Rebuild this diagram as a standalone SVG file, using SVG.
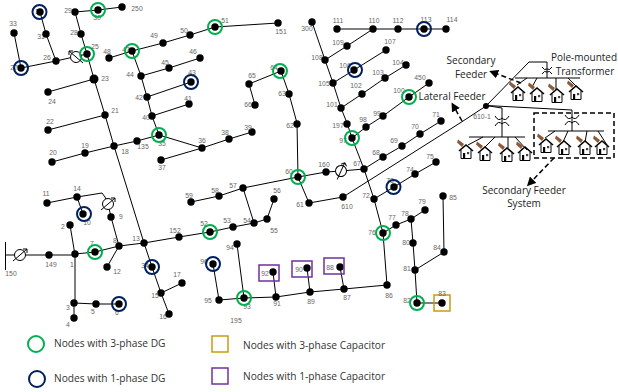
<svg xmlns="http://www.w3.org/2000/svg" width="618" height="392" viewBox="0 0 618 392">
<style>
text{font-family:"Liberation Sans",Arial,sans-serif;}
.l{font-size:6.800px;fill:#666;text-anchor:middle;dominant-baseline:middle}
.c{fill:none;stroke:#000;stroke-width:1}
.n{fill:#000}
.g{fill:none;stroke:#00b050;stroke-width:2}
.b{fill:none;stroke:#002060;stroke-width:2}
.o{fill:none;stroke:#c99a12;stroke-width:1.500}
.p{fill:none;stroke:#7030a0;stroke-width:1.500}
.t{font-family:"Open Sans","Noto Sans",sans-serif;font-size:10.200px;fill:#333;dominant-baseline:middle}
.m{font-family:"Open Sans","Noto Sans",sans-serif;font-size:10px;fill:#222;text-anchor:middle;dominant-baseline:middle}
.d{fill:none;stroke:#000;stroke-width:1.500;stroke-dasharray:5 3}
</style>
<defs>
<marker id="ah" markerWidth="6" markerHeight="6" refX="4" refY="3" orient="auto"><path d="M0 0L6 3L0 6z" fill="#000"/></marker>
<g id="house">
<path d="M-8 -12.500L-2 -8L-4 -5L-9 -9.500z" fill="#8a5a3a"/>
<path d="M-5 -2V6.500H5V-2" fill="#fff" stroke="#000" stroke-width="1"/>
<path d="M-7 -1L0 -7L7 -1" fill="none" stroke="#000" stroke-width="1.600"/>
<rect x="-3" y="1" width="2.200" height="5.500" fill="#000"/>
<rect x="1" y="0" width="2.200" height="2.200" fill="#444"/>
</g>
<g id="xf" fill="none" stroke="#000" stroke-width="1">
<path d="M-7 -4Q-3.500 2 0 -2Q3.500 2 7 -4"/>
<path d="M-7 6Q-3.500 0 0 4Q3.500 0 7 6"/>
</g>
<g id="xfs" fill="none" stroke="#000" stroke-width="1">
<path d="M-5 -3Q-2.500 1 0 -1Q2.500 1 5 -3"/>
<path d="M-5 4Q-2.500 0 0 2Q2.500 0 5 4"/>
</g>
<g id="reg" fill="none" stroke="#000" stroke-width="1"><circle r="5.500" fill="#fff"/><path d="M-7 6L7 -6M7 -6h-4M7 -6v4"/></g>
</defs>

<g id="connectors" class="c">
<path d="M5.500 242V270M6 255H75"/>
<path d="M75 255L70 225M75 255V303M74 303V318M74 303L96 304L119 304M75 254L95 252L119 246L144 243L179 237L210 232L233 227L254 223L267 219L274 199"/>
<path d="M119 246L107 267M119 246L111 217L108 204L105 197L102 193L77 197L47 203M77 197L83 214"/>
<path d="M144 243L152 267L161 293L182 283M161 293L169 314"/>
<path d="M144 243L114 146L105 115L94 79L87 54L81 34L75 12L98 10L122 7M87 54L56 61L21 68L14 33M56 61L46 34L40 12M94 79L48 92M105 115L48 130M114 146L85 153L52 162M114 146L137 141L159 135L152 116L147 97L141 76L132 51L109 58M132 51L163 43L190 35L215 27L278 23"/>
<path d="M141 76L169 68L200 58M147 97L191 82M152 116L189 104M159 135L202 148L229 139L252 132M202 148L161 160"/>
<path d="M254 223L243 188M191 202L219 196L243 188L298 177L297 123L289 94L281 71L249 84L255 105M298 177L326 172L341 171L364 169M298 177L309 203L343 197L460 123L486 106"/>
<path d="M237 244L244 298M213 264L219 300L244 298L276 297L310 292L344 289L387 285L383 233L374 199L364 169L352 138L347 123L341 108L333 83L325 60L312 22M276 297L273 272M310 292L307 268M344 289L340 267"/>
<path d="M352 138L366 127L383 116L409 97L429 83M341 108L362 94L385 78L406 65M333 83L354 70L386 50M325 60L347 46L373 29M337 29H446"/>
<path d="M364 169L383 157L402 146L420 134L441 121M374 199L394 187L415 174L436 162M383 233L396 225L411 219L425 210M411 219L413 243L415 270L417 303H442M415 270L444 252L443 196"/>
<path d="M486 106L529 62H547V78M486 105.500L572 110V131M486 105.500L502 108V137"/>
<path d="M515 78H580M469 137H525M548 131H604"/>
<path d="M527 78L517 85M537 78L532 87M556 78V90M568 78L577 87"/>
<path d="M483 137L468 145M495 137L485 147M508 137V148M515 137L527 150"/>
<path d="M555 131L545 138M568 131L563 142M587 131L585 142M598 131L607 145"/>
<use href="#reg" x="20" y="255"/><use href="#reg" transform="translate(76 57) scale(-1 1)"/><use href="#reg" x="108" y="204"/><use href="#reg" transform="translate(341 171) rotate(-25)"/>
<use href="#xfs" x="547" y="70"/>
<use href="#xf" x="502" y="120"/>
<use href="#xf" x="572" y="119"/>
<path class="d" d="M521 83L492 72" marker-end="url(#ah)"/>
<path class="d" d="M462 121L453 105" marker-end="url(#ah)"/>
<path class="d" d="M554 158L529 184" marker-end="url(#ah)"/>
<rect x="534" y="113" width="80" height="45" fill="none" stroke="#000" stroke-width="1.500" stroke-dasharray="5 3"/>
</g>

<g id="nodes">
<g id="n33"><circle class="n" cx="14" cy="33" r="3.700"/><text class="l" x="13" y="24">33</text></g>
<g id="n32"><text class="l" x="39" y="12">32</text><circle class="n" cx="40" cy="12" r="3.700"/><circle class="b" cx="39.500" cy="12" r="7"/></g>
<g id="n31"><text class="l" x="41" y="37">31</text><circle class="n" cx="46" cy="34" r="3.700"/></g>
<g id="n27"><text class="l" x="14" y="68">27</text><circle class="n" cx="21" cy="68" r="3.700"/><circle class="b" cx="21" cy="68" r="7"/></g>
<g id="n26"><circle class="n" cx="56" cy="61" r="3.700"/><text class="l" x="47" y="58">26</text></g>
<g id="n25"><circle class="n" cx="87" cy="54" r="3.700"/><circle class="g" cx="87" cy="54" r="7"/><text class="l" x="95" y="47">25</text></g>
<g id="n28"><text class="l" x="74" y="33">28</text><circle class="n" cx="81" cy="34" r="3.700"/></g>
<g id="n29"><circle class="n" cx="75" cy="12" r="3.700"/><text class="l" x="68" y="11">29</text></g>
<g id="n30"><text class="l" x="97" y="18">30</text><circle class="n" cx="98" cy="10" r="3.700"/><circle class="g" cx="98" cy="10" r="7"/></g>
<g id="n250"><circle class="n" cx="122" cy="7" r="3.700"/><text class="l" x="137" y="9">250</text></g>
<g id="n23"><circle class="n" cx="94" cy="79" r="4.500"/><text class="l" x="105" y="79">23</text></g>
<g id="n24"><circle class="n" cx="48" cy="92" r="3.700"/><text class="l" x="52" y="102">24</text></g>
<g id="n21"><circle class="n" cx="105" cy="115" r="3.700"/><text class="l" x="115" y="111">21</text></g>
<g id="n22"><circle class="n" cx="48" cy="130" r="3.700"/><text class="l" x="50" y="122">22</text></g>
<g id="n48"><circle class="n" cx="109" cy="58" r="3.700"/><text class="l" x="107" y="52">48</text></g>
<g id="n47"><text class="l" x="126" y="50">47</text><circle class="n" cx="132" cy="51" r="3.700"/><circle class="g" cx="132" cy="51" r="7"/></g>
<g id="n49"><circle class="n" cx="163" cy="43" r="3.700"/><text class="l" x="154" y="36">49</text></g>
<g id="n50"><circle class="n" cx="190" cy="35" r="3.700"/><text class="l" x="184" y="31">50</text></g>
<g id="n51"><circle class="n" cx="215" cy="27" r="3.700"/><circle class="g" cx="215" cy="27" r="7"/><text class="l" x="225" y="21">51</text></g>
<g id="n151"><circle class="n" cx="278" cy="23" r="3.700"/><text class="l" x="281" y="32">151</text></g>
<g id="n44"><circle class="n" cx="141" cy="76" r="3.700"/><text class="l" x="130" y="75">44</text></g>
<g id="n42"><circle class="n" cx="147" cy="97" r="3.700"/><text class="l" x="139" y="98">42</text></g>
<g id="n40"><text class="l" x="146" y="118">40</text><circle class="n" cx="152" cy="116" r="3.700"/></g>
<g id="n35"><text class="l" x="162" y="144">35</text><circle class="n" cx="159" cy="135" r="3.700"/><circle class="g" cx="159" cy="135" r="7"/></g>
<g id="n45"><circle class="n" cx="169" cy="68" r="3.700"/><text class="l" x="165" y="63">45</text></g>
<g id="n46"><circle class="n" cx="200" cy="58" r="3.700"/><text class="l" x="193" y="52">46</text></g>
<g id="n43"><text class="l" x="192" y="73">43</text><circle class="n" cx="191" cy="82" r="3.700"/><circle class="b" cx="191" cy="82" r="7"/></g>
<g id="n41"><circle class="n" cx="189" cy="104" r="3.700"/><text class="l" x="188" y="99">41</text></g>
<g id="n18"><circle class="n" cx="114" cy="146" r="3.700"/><text class="l" x="125" y="152">18</text></g>
<g id="n135"><circle class="n" cx="137" cy="141" r="3.700"/><text class="l" x="143" y="147">135</text></g>
<g id="n19"><circle class="n" cx="85" cy="153" r="3.700"/><text class="l" x="85" y="146">19</text></g>
<g id="n20"><circle class="n" cx="52" cy="162" r="3.700"/><text class="l" x="53" y="153">20</text></g>
<g id="n36"><circle class="n" cx="202" cy="148" r="3.700"/><text class="l" x="202" y="141">36</text></g>
<g id="n38"><circle class="n" cx="229" cy="139" r="3.700"/><text class="l" x="225" y="133">38</text></g>
<g id="n39"><circle class="n" cx="252" cy="132" r="3.700"/><text class="l" x="248" y="128">39</text></g>
<g id="n37"><circle class="n" cx="161" cy="160" r="3.700"/><text class="l" x="162" y="168">37</text></g>
<g id="n14"><circle class="n" cx="77" cy="197" r="3.700"/><text class="l" x="77" y="189">14</text></g>
<g id="n11"><circle class="n" cx="47" cy="203" r="3.700"/><text class="l" x="46" y="194">11</text></g>
<g id="n10"><text class="l" x="87" y="223">10</text><circle class="n" cx="83" cy="214" r="3.700"/><circle class="b" cx="84" cy="214" r="7"/></g>
<g id="n9"><circle class="n" cx="111" cy="217" r="3.700"/><text class="l" x="121" y="217">9</text></g>
<g id="n8"><circle class="n" cx="119" cy="246" r="3.700"/><text class="l" x="115" y="241">8</text></g>
<g id="n13"><circle class="n" cx="144" cy="243" r="3.700"/><text class="l" x="136" y="239">13</text></g>
<g id="n2"><circle class="n" cx="70" cy="225" r="3.700"/><text class="l" x="63" y="227">2</text></g>
<g id="n7"><text class="l" x="92" y="244">7</text><circle class="n" cx="95" cy="252" r="3.700"/><circle class="g" cx="95" cy="252" r="7"/></g>
<g id="n1"><circle class="n" cx="75" cy="254" r="3.700"/><text class="l" x="72" y="265">1</text></g>
<g id="n149"><circle class="n" cx="49" cy="255" r="3.700"/><text class="l" x="51" y="265">149</text></g>
<g id="n150"><text class="l" x="11" y="274">150</text></g>
<g id="n12"><circle class="n" cx="107" cy="267" r="3.700"/><text class="l" x="117" y="272">12</text></g>
<g id="n34"><text class="l" x="145" y="266">34</text><circle class="n" cx="152" cy="267" r="3.700"/><circle class="b" cx="152" cy="267" r="7"/></g>
<g id="n15"><circle class="n" cx="161" cy="293" r="3.700"/><text class="l" x="155" y="296">15</text></g>
<g id="n17"><circle class="n" cx="182" cy="283" r="3.700"/><text class="l" x="177" y="275">17</text></g>
<g id="n16"><text class="l" x="163" y="317">16</text><circle class="n" cx="169" cy="314" r="3.700"/></g>
<g id="n3"><circle class="n" cx="74" cy="303" r="3.700"/><text class="l" x="68" y="308">3</text></g>
<g id="n4"><circle class="n" cx="74" cy="318" r="3.700"/><text class="l" x="68" y="325">4</text></g>
<g id="n5"><circle class="n" cx="96" cy="304" r="3.700"/><text class="l" x="93" y="312">5</text></g>
<g id="n6"><text class="l" x="117" y="313">6</text><circle class="n" cx="119" cy="304" r="3.700"/><circle class="b" cx="119" cy="304" r="7"/></g>
<g id="n64"><text class="l" x="274" y="68">64</text><circle class="n" cx="281" cy="71" r="3.700"/><circle class="g" cx="280" cy="71" r="7"/></g>
<g id="n65"><circle class="n" cx="249" cy="84" r="3.700"/><text class="l" x="252" y="76">65</text></g>
<g id="n66"><text class="l" x="248" y="105">66</text><circle class="n" cx="255" cy="105" r="3.700"/></g>
<g id="n63"><text class="l" x="282" y="94">63</text><circle class="n" cx="289" cy="94" r="3.700"/></g>
<g id="n62"><text class="l" x="290" y="126">62</text><circle class="n" cx="297" cy="124" r="3.700"/></g>
<g id="n60"><text class="l" x="289" y="172">60</text><circle class="n" cx="298" cy="177" r="3.700"/><circle class="g" cx="298" cy="177" r="7"/></g>
<g id="n57"><circle class="n" cx="243" cy="188" r="3.700"/><text class="l" x="233" y="186">57</text></g>
<g id="n58"><circle class="n" cx="219" cy="196" r="3.700"/><text class="l" x="215" y="191">58</text></g>
<g id="n59"><circle class="n" cx="191" cy="202" r="3.700"/><text class="l" x="189" y="196">59</text></g>
<g id="n54"><text class="l" x="247" y="221">54</text><circle class="n" cx="254" cy="223" r="3.700"/></g>
<g id="n55"><circle class="n" cx="267" cy="219" r="3.700"/><text class="l" x="274" y="231">55</text></g>
<g id="n56"><circle class="n" cx="274" cy="199" r="3.700"/><text class="l" x="277" y="191">56</text></g>
<g id="n53"><circle class="n" cx="233" cy="227" r="3.700"/><text class="l" x="227" y="221">53</text></g>
<g id="n52"><text class="l" x="204" y="224">52</text><circle class="n" cx="210" cy="232" r="3.700"/><circle class="g" cx="210" cy="232" r="7"/></g>
<g id="n152"><circle class="n" cx="179" cy="237" r="3.700"/><text class="l" x="175" y="231">152</text></g>
<g id="n94"><text class="l" x="230" y="248">94</text><circle class="n" cx="237" cy="244" r="3.700"/></g>
<g id="n160"><circle class="n" cx="326" cy="172" r="3.700"/><text class="l" x="324" y="165">160</text></g>
<g id="n61"><circle class="n" cx="309" cy="203" r="3.700"/><text class="l" x="300" y="205">61</text></g>
<g id="n610"><circle class="n" cx="343" cy="197" r="3.700"/><text class="l" x="347" y="207">610</text></g>
<g id="n96"><text class="l" x="204" y="262">96</text><circle class="n" cx="213" cy="264" r="3.700"/><circle class="b" cx="213" cy="264" r="7"/></g>
<g id="n95"><circle class="n" cx="219" cy="300" r="3.700"/><text class="l" x="208" y="301">95</text></g>
<g id="n93"><text class="l" x="247" y="307">93</text><circle class="n" cx="244" cy="298" r="3.700"/><circle class="g" cx="244" cy="298" r="7"/></g>
<g id="n195"><text class="l" x="236" y="321">195</text></g>
<g id="n92"><circle class="n" cx="273" cy="272" r="3.700"/><rect class="p" x="259" y="265" width="20" height="16"/><text class="l" x="265" y="274">92</text></g>
<g id="n91"><circle class="n" cx="276" cy="297" r="3.700"/><text class="l" x="277" y="304">91</text></g>
<g id="n90"><circle class="n" cx="307" cy="268" r="3.700"/><rect class="p" x="292" y="261" width="20" height="16"/><text class="l" x="299" y="270">90</text></g>
<g id="n89"><circle class="n" cx="310" cy="292" r="3.700"/><text class="l" x="311" y="302">89</text></g>
<g id="n88"><circle class="n" cx="340" cy="267" r="3.700"/><rect class="p" x="324" y="258" width="20" height="16"/><text class="l" x="330" y="268">88</text></g>
<g id="n87"><circle class="n" cx="344" cy="289" r="3.700"/><text class="l" x="347" y="298">87</text></g>
<g id="n86"><circle class="n" cx="387" cy="285" r="3.700"/><text class="l" x="389" y="296">86</text></g>
<g id="n300"><circle class="n" cx="312" cy="22" r="3.700"/><text class="l" x="307" y="29">300</text></g>
<g id="n111"><circle class="n" cx="337" cy="29" r="3.700"/><text class="l" x="338" y="21">111</text></g>
<g id="n110"><circle class="n" cx="373" cy="29" r="3.700"/><text class="l" x="374" y="21">110</text></g>
<g id="n112"><circle class="n" cx="398" cy="29" r="3.700"/><text class="l" x="398" y="21">112</text></g>
<g id="n113"><text class="l" x="426" y="20">113</text><circle class="n" cx="424" cy="29" r="3.700"/><circle class="b" cx="424" cy="29" r="7"/></g>
<g id="n114"><circle class="n" cx="446" cy="29" r="3.700"/><text class="l" x="452" y="20">114</text></g>
<g id="n109"><text class="l" x="338" y="43">109</text><circle class="n" cx="347" cy="46" r="3.700"/></g>
<g id="n108"><text class="l" x="317" y="58">108</text><circle class="n" cx="325" cy="60" r="3.700"/></g>
<g id="n107"><circle class="n" cx="386" cy="50" r="3.700"/><text class="l" x="390" y="42">107</text></g>
<g id="n106"><text class="l" x="345" y="66">106</text><circle class="n" cx="354" cy="70" r="3.700"/><circle class="b" cx="355" cy="70" r="7"/></g>
<g id="n105"><text class="l" x="324" y="84">105</text><circle class="n" cx="333" cy="83" r="3.700"/></g>
<g id="n104"><text class="l" x="398" y="63">104</text><circle class="n" cx="406" cy="65" r="3.700"/></g>
<g id="n103"><circle class="n" cx="385" cy="78" r="3.700"/><text class="l" x="378" y="73">103</text></g>
<g id="n102"><circle class="n" cx="362" cy="94" r="3.700"/><text class="l" x="356" y="86">102</text></g>
<g id="n101"><text class="l" x="332" y="105">101</text><circle class="n" cx="341" cy="108" r="3.700"/></g>
<g id="n450"><circle class="n" cx="429" cy="83" r="3.700"/><text class="l" x="420" y="78">450</text></g>
<g id="n100"><text class="l" x="399" y="91">100</text><circle class="n" cx="409" cy="97" r="3.700"/><circle class="g" cx="409" cy="97" r="7"/></g>
<g id="n99"><text class="l" x="377" y="114">99</text><circle class="n" cx="383" cy="116" r="3.700"/></g>
<g id="n98"><circle class="n" cx="366" cy="127" r="3.700"/><text class="l" x="363" y="120">98</text></g>
<g id="n197"><text class="l" x="338" y="126">197</text><circle class="n" cx="347" cy="124" r="3.700"/></g>
<g id="n97"><text class="l" x="343" y="141">97</text><circle class="n" cx="352" cy="138" r="3.700"/><circle class="g" cx="352" cy="138" r="7"/></g>
<g id="n71"><circle class="n" cx="441" cy="121" r="3.700"/><text class="l" x="436" y="115">71</text></g>
<g id="n70"><circle class="n" cx="420" cy="134" r="3.700"/><text class="l" x="415" y="127">70</text></g>
<g id="n69"><circle class="n" cx="402" cy="146" r="3.700"/><text class="l" x="394" y="141">69</text></g>
<g id="n68"><circle class="n" cx="383" cy="157" r="3.700"/><text class="l" x="376" y="153">68</text></g>
<g id="n67"><circle class="n" cx="364" cy="169" r="3.700"/><text class="l" x="357" y="164">67</text></g>
<g id="n75"><circle class="n" cx="436" cy="162" r="3.700"/><text class="l" x="430" y="157">75</text></g>
<g id="n74"><circle class="n" cx="415" cy="174" r="3.700"/><text class="l" x="410" y="170">74</text></g>
<g id="n73"><text class="l" x="390" y="181">73</text><circle class="n" cx="394" cy="187" r="3.700"/><circle class="b" cx="393.500" cy="187" r="7"/></g>
<g id="n72"><text class="l" x="366" y="196">72</text><circle class="n" cx="374" cy="199" r="3.700"/></g>
<g id="n85"><circle class="n" cx="443" cy="196" r="3.700"/><text class="l" x="453" y="198">85</text></g>
<g id="n79"><circle class="n" cx="425" cy="210" r="3.700"/><text class="l" x="422" y="202">79</text></g>
<g id="n78"><circle class="n" cx="411" cy="219" r="3.700"/><text class="l" x="405" y="214">78</text></g>
<g id="n77"><circle class="n" cx="396" cy="225" r="3.700"/><text class="l" x="392" y="218">77</text></g>
<g id="n76"><text class="l" x="372" y="233">76</text><circle class="n" cx="383" cy="233" r="3.700"/><circle class="g" cx="383" cy="233" r="7"/></g>
<g id="n84"><circle class="n" cx="444" cy="252" r="3.700"/><text class="l" x="437" y="248">84</text></g>
<g id="n80"><text class="l" x="406" y="243">80</text><circle class="n" cx="413" cy="243" r="3.700"/></g>
<g id="n81"><text class="l" x="407" y="269">81</text><circle class="n" cx="415" cy="270" r="3.700"/></g>
<g id="n82"><text class="l" x="407" y="301">82</text><circle class="n" cx="417" cy="303" r="3.700"/><circle class="g" cx="417" cy="303" r="7"/></g>
<g id="n83"><circle class="n" cx="442" cy="303" r="3.700"/><rect class="o" x="434" y="295" width="16" height="16"/><text class="l" x="442" y="294">83</text></g>
<g id="n610-1"><circle class="n" cx="486" cy="106" r="3"/><text class="l" x="482" y="117">610-1</text></g>
</g>

<g id="houses">
<use href="#house" x="518" y="94"/><use href="#house" x="537" y="95"/><use href="#house" x="557" y="96"/><use href="#house" x="576" y="93"/>
<use href="#house" x="466" y="152"/><use href="#house" x="485" y="154"/><use href="#house" x="507" y="155"/><use href="#house" x="525" y="154"/>
<use href="#house" x="546" y="146"/><use href="#house" x="564" y="148"/><use href="#house" x="585" y="148"/><use href="#house" x="602" y="148"/>
</g>

<g id="annotations">
<text class="m" x="471" y="61">Secondary</text><text class="m" x="471" y="75">Feeder</text>
<text class="m" x="584" y="58">Pole-mounted</text><text class="m" x="585" y="72">Transformer</text>
<text class="m" x="452" y="97">Lateral Feeder</text>
<text class="m" x="524" y="191">Secondary Feeder</text><text class="m" x="524" y="204">System</text>
</g>

<g id="legend">
<circle class="g" cx="36" cy="344" r="8"/><text class="t" x="54" y="344">Nodes with 3-phase DG</text>
<circle class="b" cx="37" cy="379" r="8"/><text class="t" x="54" y="379">Nodes with 1-phase DG</text>
<rect class="o" x="212" y="336" width="16" height="16"/><text class="t" x="243" y="346">Nodes with 3-phase Capacitor</text>
<rect class="p" x="212" y="368" width="16" height="16"/><text class="t" x="243" y="377">Nodes with 1-phase Capacitor</text>
</g>
</svg>
